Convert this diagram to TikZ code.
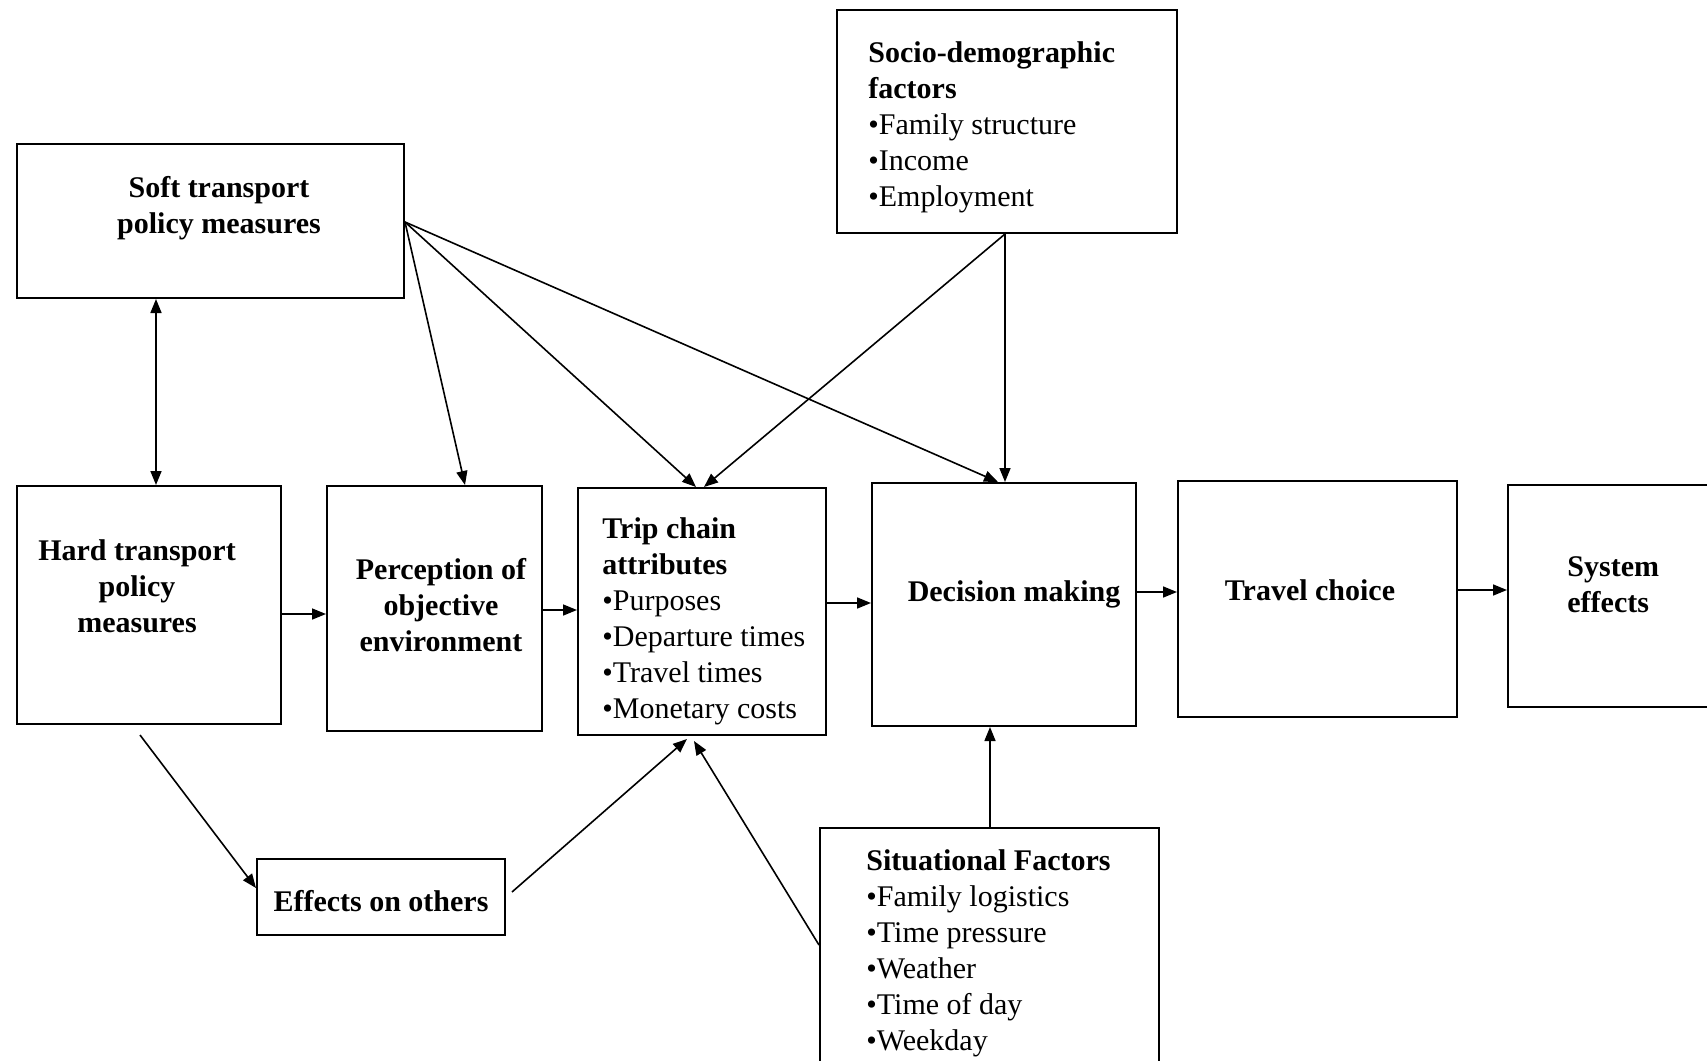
\documentclass[tikz,border=0pt]{standalone}
\usepackage{fontspec}
\setmainfont{Liberation Serif}
\usetikzlibrary{arrows.meta,fit}
\begin{document}
\begin{tikzpicture}[x=0.5pt,y=-0.5pt,
  box/.style={draw, line width=1pt, inner sep=0pt},
  lbl/.style={inner sep=0pt, font=\fontsize{15}{18}\selectfont},
  conn/.style={line width=0.8pt, -{Triangle[length=7pt,width=5.5pt]}},
  dconn/.style={line width=0.8pt, {Triangle[length=7pt,width=5.5pt]}-{Triangle[length=7pt,width=5.5pt]}},
]
\useasboundingbox (0,0) rectangle (1707,1060);
\clip (0,0) rectangle (1707,1060);
\fill[white] (0,0) rectangle (1707,1060);

% boxes
\node[box, fit={(17,144) (404,298)}] (soft) {};
\node[box, fit={(837,10) (1177,233)}] (socio) {};
\node[box, fit={(17,486) (281,724)}] (hard) {};
\node[box, fit={(327,486) (542,731)}] (perc) {};
\node[box, fit={(578,488) (826,735)}] (trip) {};
\node[box, fit={(872,483) (1136,726)}] (dec) {};
\node[box, fit={(1178,481) (1457,717)}] (travel) {};
\node[box, fit={(1508,485) (1740,707)}] (sys) {};
\node[box, fit={(257,859) (505,935)}] (eff) {};
\node[box, fit={(820,828) (1159,1090)}] (sit) {};

% texts
\node[lbl, align=center, font=\fontsize{15}{18}\selectfont\bfseries] (softt) at (219,208) {Soft transport\\policy measures};
\node[lbl, align=left, anchor=north west] (sociot) at (868,41) {\textbf{Socio-demographic}\\\textbf{factors}\\\textbullet Family structure\\\textbullet Income\\\textbullet Employment};
\node[lbl, align=center, font=\fontsize{15}{18}\selectfont\bfseries] (hardt) at (137,586) {Hard transport\\policy\\measures};
\node[lbl, align=center, font=\fontsize{15}{18}\selectfont\bfseries] (perct) at (441,605) {Perception of\\objective\\environment};
\node[lbl, align=left, anchor=north west] (tript) at (602,517) {\textbf{Trip chain}\\\textbf{attributes}\\\textbullet Purposes\\\textbullet Departure times\\\textbullet Travel times\\\textbullet Monetary costs};
\node[lbl, font=\fontsize{15}{18}\selectfont\bfseries] (dect) at (1014,594) {Decision making};
\node[lbl, font=\fontsize{15}{18}\selectfont\bfseries] (travelt) at (1310,590) {Travel choice};
\node[lbl, align=left, anchor=west, font=\fontsize{15}{18}\selectfont\bfseries] (syst) at (1567,585) {System\\effects};
\node[lbl, font=\fontsize{15}{18}\selectfont\bfseries] (efft) at (381,901) {Effects on others};
\node[lbl, align=left, anchor=north west] (sitt) at (866,849) {\textbf{Situational Factors}\\\textbullet Family logistics\\\textbullet Time pressure\\\textbullet Weather\\\textbullet Time of day\\\textbullet Weekday};

% connectors
\draw[dconn] ([shift={(140,0)}]soft.south west) -- ([shift={(140,0)}]hard.north west);
\draw[conn] ([shift={(0,79)}]soft.north east) -- ([shift={(139,0)}]perc.north west);
\draw[conn] ([shift={(0,79)}]soft.north east) -- ([shift={(119,0)}]trip.north west);
\draw[conn] ([shift={(0,79)}]soft.north east) -- ([shift={(127,0)}]dec.north west);
\draw[conn] ([shift={(169,0)}]socio.south west) -- ([shift={(134,0)}]dec.north west);
\draw[conn] ([shift={(169,0)}]socio.south west) -- ([shift={(127,0)}]trip.north west);
\draw[conn] ([shift={(0,129)}]hard.north east) -- ([shift={(0,129)}]perc.north west);
\draw[conn] ([shift={(0,125)}]perc.north east) -- ([shift={(0,123)}]trip.north west);
\draw[conn] ([shift={(0,116)}]trip.north east) -- ([shift={(0,121)}]dec.north west);
\draw[conn] ([shift={(0,110)}]dec.north east) -- ([shift={(0,112)}]travel.north west);
\draw[conn] ([shift={(0,110)}]travel.north east) -- ([shift={(0,106)}]sys.north west);
\draw[conn] ([shift={(124,10)}]hard.south west) -- ([shift={(0,30)}]eff.north west);
\draw[conn] ([shift={(6,34)}]eff.north east) -- ([shift={(110,3)}]trip.south west);
\draw[conn] ([shift={(0,118)}]sit.north west) -- ([shift={(117,5)}]trip.south west);
\draw[conn] ([shift={(171,0)}]sit.north west) -- ([shift={(119,0)}]dec.south west);
\end{tikzpicture}
\end{document}
